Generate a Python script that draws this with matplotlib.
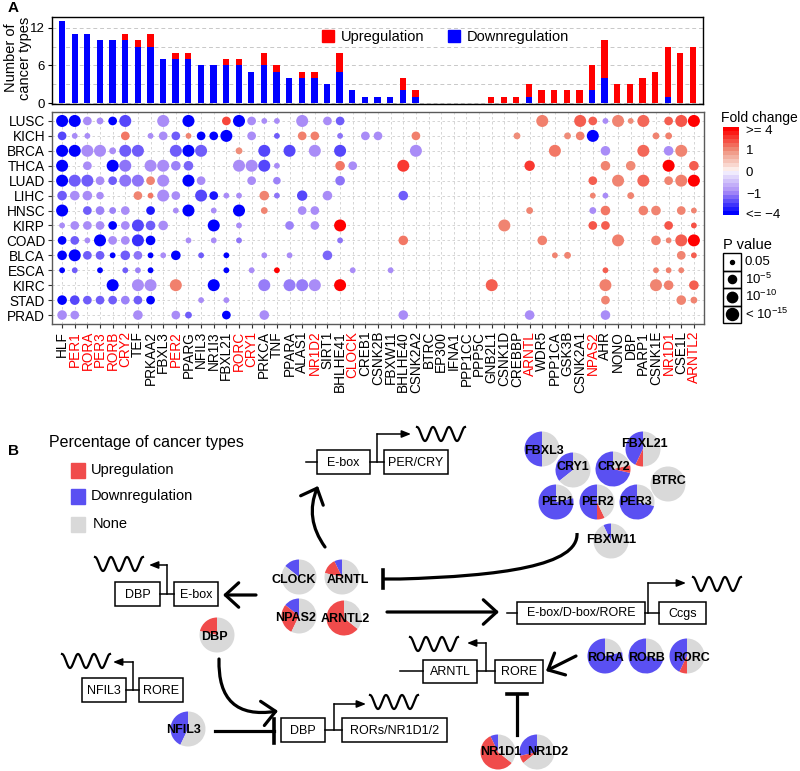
import numpy as np
import matplotlib.pyplot as plt
from matplotlib.colors import LinearSegmentedColormap
from matplotlib.patches import Patch, Rectangle, Wedge, FancyArrowPatch, PathPatch
from matplotlib.path import Path

plt.rcParams['font.family'] = ['Liberation Sans', 'DejaVu Sans']
plt.rcParams['mathtext.fontset'] = 'custom'
plt.rcParams['mathtext.rm'] = 'Liberation Sans'

genes = ["HLF", "PER1", "RORA", "PER3", "RORB", "CRY2", "TEF", "PRKAA2", "FBXL3", "PER2",
         "PPARG", "NFIL3", "NR1I3", "FBXL21", "RORC", "CRY1", "PRKCA", "TNF", "PPARA", "ALAS1",
         "NR1D2", "SIRT1", "BHLHE41", "CLOCK", "CREB1", "CSNK2B", "FBXW11", "BHLHE40", "CSNK2A2", "BTRC",
         "EP300", "IFNA1", "PPP1CC", "PPP5C", "GNB2L1", "CSNK1D", "CREBBP", "ARNTL", "WDR5", "PPP1CA",
         "GSK3B", "CSNK2A1", "NPAS2", "AHR", "NONO", "DBP", "PARP1", "CSNK1E", "NR1D1", "CSE1L", "ARNTL2"]
red_genes = ["PER1", "RORA", "PER3", "RORB", "CRY2", "PER2", "RORC", "CRY1", "NR1D2", "CLOCK",
             "ARNTL", "NPAS2", "NR1D1", "ARNTL2"]
cancers = ["LUSC", "KICH", "BRCA", "THCA", "LUAD", "LIHC", "HNSC", "KIRP", "COAD", "BLCA",
           "ESCA", "KIRC", "STAD", "PRAD"]

# (gene, fold change, -log10 p)
lusc = [("HLF", -4, 15), ("PER1", -4, 15), ("RORA", -1, 6), ("PER3", -1, 3), ("RORB", -4, 6),
        ("CRY2", -2.5, 15), ("FBXL3", -1, 15), ("PPARG", -4, 15), ("FBXL21", 2.5, 6), ("RORC", -4, 15),
        ("CRY1", -1, 6), ("PRKCA", -1, 2), ("TNF", -1, 2), ("ALAS1", -1, 15), ("SIRT1", -1, 6),
        ("BHLHE41", -2, 6), ("WDR5", 1.3, 15), ("CSNK2A1", 2, 15), ("NPAS2", 2, 6), ("AHR", -1, 2),
        ("NONO", 1.2, 15), ("DBP", 1, 2), ("PARP1", 1.8, 15), ("NR1D1", 2, 6), ("CSE1L", 2.2, 15),
        ("ARNTL2", 4, 15)]
kich = [("HLF", -2.5, 6), ("PER1", -1, 2), ("RORA", -1, 2), ("CRY2", 1.5, 6), ("PRKAA2", -1, 2),
        ("FBXL3", -1, 6), ("PER2", -2, 6), ("PPARG", 1.2, 2), ("NFIL3", -4, 6), ("NR1I3", -4, 6),
        ("FBXL21", -4, 15), ("CRY1", -1, 6), ("TNF", -2, 2), ("ALAS1", 1.3, 6), ("NR1D2", 1.3, 6),
        ("BHLHE41", -1.5, 2), ("CREB1", -1, 6), ("CSNK2B", -1, 6), ("CSNK2A2", 1.3, 6), ("CREBBP", 1, 3),
        ("GSK3B", 1, 3), ("CSNK2A1", 1.3, 6), ("NPAS2", -4, 15), ("CSNK1E", 1.2, 3), ("NR1D1", 1.3, 3)]
brca = [("HLF", -4, 15), ("PER1", -4, 15), ("RORA", -1, 15), ("PER3", -1, 15), ("RORB", -1, 3),
        ("CRY2", -2, 15), ("TEF", -2, 15), ("PER2", -2, 15), ("PPARG", -4, 15), ("NFIL3", -2, 15),
        ("RORC", 1, 3), ("PRKCA", -2.5, 15), ("PPARA", -2.5, 15), ("NR1D2", -1, 15), ("BHLHE41", -2.5, 15),
        ("CSNK2A2", -1, 15), ("PPP1CA", 1.5, 15), ("AHR", -1, 8), ("PARP1", 1.8, 15), ("NR1D1", -1, 8),
        ("CSE1L", 1.2, 15)]
thca = [("HLF", -4, 15), ("RORA", -1, 6), ("RORB", -4, 15), ("CRY2", -1.5, 15), ("PRKAA2", -1, 15),
        ("FBXL3", -1, 15), ("PER2", -1.2, 8), ("PPARG", -1.8, 8), ("RORC", -1, 15), ("CRY1", -1, 15),
        ("PRKCA", -2.5, 15), ("TNF", -1, 2), ("BHLHE41", 1.5, 8), ("CLOCK", -1, 6), ("BHLHE40", 2.8, 15),
        ("ARNTL", 2.8, 10), ("AHR", 1.2, 8), ("DBP", 1.1, 8), ("NR1D1", 4, 15), ("ARNTL2", 2, 8)]
luad = [("HLF", -4, 15), ("PER1", -2, 15), ("RORA", -2, 15), ("PER3", -1, 6), ("RORB", -2, 6),
        ("CRY2", -1.5, 15), ("TEF", -1.5, 15), ("PRKAA2", 1.2, 6), ("FBXL3", -1, 15), ("PPARG", -4, 15),
        ("NFIL3", -1, 6), ("CRY1", -1, 6), ("TNF", -1.2, 4), ("BHLHE41", -1.5, 8), ("NPAS2", 2, 6),
        ("NONO", 1.2, 15), ("PARP1", 1.8, 15), ("NR1D1", 1.2, 6), ("CSE1L", 1.3, 15), ("ARNTL2", 4, 15)]
lihc = [("HLF", -2, 8), ("PER1", -1, 8), ("RORA", -1, 8), ("PER3", -1, 4), ("TEF", 1.2, 6),
        ("PRKAA2", 1.5, 2), ("FBXL3", -1, 15), ("PER2", -1, 6), ("NFIL3", -2.5, 15), ("NR1I3", -3.5, 6),
        ("FBXL21", -1, 2), ("RORC", -1, 2), ("PRKCA", 1.2, 8), ("TNF", -1.5, 2), ("ALAS1", -2.5, 10),
        ("SIRT1", -1, 8), ("BHLHE40", -2, 8), ("NPAS2", 1.2, 2), ("AHR", -1, 2), ("DBP", 1.2, 3)]
hnsc = [("HLF", -4, 15), ("RORA", -2, 6), ("PER3", -1.2, 6), ("RORB", -1.2, 3), ("CRY2", -1, 6),
        ("PRKAA2", -3.5, 6), ("PER2", -1, 2), ("PPARG", -4, 15), ("NR1I3", -1, 2), ("RORC", -4, 15),
        ("PRKCA", 1.2, 3), ("ALAS1", -1, 6), ("NR1D2", -1, 6), ("ARNTL", 1.2, 3), ("NPAS2", -1, 3),
        ("AHR", 1.5, 8), ("PARP1", 1.3, 8), ("CSNK1E", 1.2, 8), ("CSE1L", 1.2, 6), ("ARNTL2", 1.2, 2)]
kirp = [("HLF", -1, 2), ("PER1", -1, 6), ("RORA", -1, 6), ("PER3", -1, 6), ("RORB", -4, 6),
        ("CRY2", -1, 6), ("TEF", -2.5, 15), ("PRKAA2", -2, 8), ("FBXL3", -1, 8), ("NR1I3", -4, 15),
        ("RORC", -1, 2), ("PPARA", -1.2, 6), ("NR1D2", -1, 6), ("BHLHE41", 4, 15), ("CSNK1D", 1.2, 15),
        ("NPAS2", 2.2, 6), ("AHR", 2, 6), ("NR1D1", 2.2, 6), ("ARNTL2", 2.3, 2)]
coad = [("HLF", -4, 6), ("PER1", -2, 6), ("RORA", -1, 2), ("PER3", -4, 15), ("RORB", -1, 6),
        ("CRY2", -1, 6), ("TEF", -3, 15), ("PRKAA2", -4, 8), ("PPARG", -1, 2), ("NR1I3", -1, 2),
        ("RORC", -1.5, 2), ("BHLHE41", -1.5, 2), ("BHLHE40", 1.5, 8), ("WDR5", 1.3, 8), ("NONO", 1.3, 15),
        ("CSNK1E", 1.3, 8), ("NR1D1", 1.2, 2), ("CSE1L", 2, 15), ("ARNTL2", 4, 15)]
blca = [("HLF", -4, 8), ("PER1", -4, 15), ("RORA", -2, 6), ("PER3", -2, 6), ("RORB", -4, 2),
        ("CRY2", -2, 8), ("TEF", -1.5, 6), ("PRKAA2", -4, 2), ("FBXL3", -1, 2), ("PER2", -4, 8),
        ("NFIL3", -2, 2), ("FBXL21", -4, 2), ("PRKCA", -1, 2), ("PPARA", -1, 2), ("SIRT1", -1.8, 8),
        ("PPP1CA", 1.2, 2), ("GSK3B", 1.2, 3), ("CSE1L", 1.2, 6), ("ARNTL2", 2, 2)]
esca = [("HLF", -4, 2), ("PER1", -2, 2), ("PER3", -4, 2), ("CRY2", -2, 2), ("TEF", -1.2, 2),
        ("PRKAA2", -4, 2), ("FBXL21", -4, 2), ("CRY1", -1, 2), ("TNF", 4, 2), ("CLOCK", -1, 2),
        ("FBXW11", -1, 2), ("AHR", 2, 2), ("CSNK1E", 1.2, 2), ("NR1D1", 1.3, 2), ("CSE1L", 1.2, 2)]
kirc = [("RORB", -4, 15), ("TEF", -1, 15), ("PRKAA2", -1, 15), ("PER2", 1.3, 15), ("NR1I3", -4, 15),
        ("PRKCA", -1.3, 15), ("PPARA", -1.3, 15), ("ALAS1", -1.3, 15), ("NR1D2", -1, 15), ("BHLHE41", 4, 15),
        ("GNB2L1", 2, 15), ("AHR", 1.3, 15), ("CSNK1E", 1.2, 15), ("NR1D1", 1.3, 8), ("ARNTL2", 2, 8)]
stad = [("HLF", -4, 8), ("PER1", -2.5, 8), ("RORA", -2, 6), ("PER3", -2, 6), ("RORB", -2, 6),
        ("CRY2", -1.2, 6), ("TEF", -2, 6), ("PRKAA2", -4, 6), ("NFIL3", -1, 2), ("FBXL21", -1, 2),
        ("AHR", 1.2, 6), ("CSE1L", 1.2, 8), ("ARNTL2", 1.2, 3)]
prad = [("HLF", -1, 8), ("PER1", -1, 6), ("TEF", -1, 8), ("PER2", -1, 6), ("PPARG", -2, 3),
        ("FBXL21", -4, 6), ("PRKCA", -1, 8), ("BHLHE40", -1, 8), ("ARNTL", -1, 8), ("AHR", -1, 8)]

dot_data = {"LUSC": lusc, "KICH": kich, "BRCA": brca, "THCA": thca, "LUAD": luad, "LIHC": lihc,
            "HNSC": hnsc, "KIRP": kirp, "COAD": coad, "BLCA": blca, "ESCA": esca, "KIRC": kirc,
            "STAD": stad, "PRAD": prad}

# panel B: pie centre (px from top-left) and label offset
pie_layout = {"CLOCK": (299, 577, -5, 3), "ARNTL": (342, 577, 6, 3), "NPAS2": (299, 616, -3, 2),
              "ARNTL2": (344, 618, 1, 1), "DBP": (217, 635, -3, 2), "NFIL3": (188, 729, -4, 1),
              "FBXL3": (542, 449, 2, 2), "FBXL21": (643, 449, 1, -5), "CRY1": (573, 470, 0, -3),
              "CRY2": (613, 469, 1, -2), "BTRC": (668, 484, 0, -3), "PER1": (556, 502, 1, 0),
              "PER2": (597, 502, 0, 0), "PER3": (637, 502, -1, 0), "FBXW11": (611, 541, 0, -1),
              "RORA": (605, 656, 1, 2), "RORB": (646, 656, 1, 2), "RORC": (687, 656, 5, 2),
              "NR1D1": (498, 752, 3, 0), "NR1D2": (537, 752, 11, 0)}

RED, BLUE = '#FF0000', '#0000FF'
PRED, PBLUE, PGREY = '#F04B4B', '#5A50F2', '#D9D9D9'
W, H = 800, 771
n_types = len(cancers)

gidx = {g: i + 1 for i, g in enumerate(genes)}
up = np.zeros(len(genes))
down = np.zeros(len(genes))
for c in cancers:
    for g, fc, lp in dot_data[c]:
        if fc > 0:
            up[gidx[g] - 1] += 1
        else:
            down[gidx[g] - 1] += 1

cmap = LinearSegmentedColormap.from_list('fc', [(0, '#0000FF'), (0.25, '#A98CF7'), (0.47, '#EEE8FD'),
                                                (0.5, '#FFFFFF'), (0.53, '#FCE9E4'), (0.75, '#EF8F7A'),
                                                (1, '#FF0000')])


def fc_pos(v):
    return np.interp(v, [-4, -1, 0, 1, 4], [0, 0.25, 0.5, 0.75, 1])


def dot_size(lp):
    d = 4 + 8 * np.sqrt(np.clip((np.asarray(lp) - 1.3) / 13.7, 0, 1))  # diameter in px
    return (d * 0.72) ** 2


def box(l, t, r, b):
    return [l / W, 1 - b / H, (r - l) / W, (b - t) / H]


fig = plt.figure(figsize=(8, 7.71), dpi=100)
x = np.arange(1, len(genes) + 1)

# ---- bar chart
ax1 = fig.add_axes(box(52, 17, 703, 104))
ax1.bar(x, down, width=0.5, color=BLUE, zorder=3)
ax1.bar(x, up, bottom=down, width=0.5, color=RED, zorder=3)
ax1.set_xlim(0.2, 51.8)
ax1.set_ylim(-0.15, 13.7)
ax1.set_xticks([])
ax1.set_yticks([0, 6, 12])
ax1.set_yticks([3, 9], minor=True)
ax1.tick_params(axis='y', which='minor', length=0)
ax1.tick_params(axis='y', labelsize=9.5, length=3, pad=2)
ax1.grid(axis='y', which='both', ls=(0, (4, 3)), color='#C8C8C8', lw=0.7, zorder=0)
for s in ax1.spines.values():
    s.set_linewidth(1)
fig.text(18 / W, 1 - 58 / H, 'Number of\ncancer types', fontsize=10.5, rotation=90,
         ha='center', va='center', linespacing=0.95, multialignment='center')
ax1.legend(handles=[Patch(color=RED, label='Upregulation'), Patch(color=BLUE, label='Downregulation')],
           ncol=2, frameon=False, loc='center', bbox_to_anchor=(0.605, 0.77), fontsize=10.5,
           handlelength=0.8, handleheight=0.8, handletextpad=0.5, columnspacing=1.6)

# ---- dot plot
ax2 = fig.add_axes(box(52, 112, 704, 324))
xs, ys, cs, ss = [], [], [], []
for r, c in enumerate(cancers, start=1):
    for g, fc, lp in dot_data[c]:
        xs.append(gidx[g])
        ys.append(r)
        cs.append(cmap(fc_pos(fc)))
        ss.append(dot_size(lp))
ax2.scatter(xs, ys, s=ss, c=cs, linewidths=0, zorder=3)
ax2.set_xlim(0.2, 51.8)
ax2.set_ylim(14.6, 0.4)
ax2.set_xticks(x)
ax2.set_xticklabels(genes, rotation=90, fontsize=9.8)
for lab in ax2.get_xticklabels():
    if lab.get_text() in red_genes:
        lab.set_color(RED)
ax2.set_yticks(np.arange(1, n_types + 1))
ax2.set_yticklabels(cancers, fontsize=9.8)
ax2.tick_params(length=3, color='#333333', pad=2)
ax2.grid(True, ls=(0, (3, 3)), color='#CFCFCF', lw=0.6, zorder=0)
ax2.set_axisbelow(True)
for s in ax2.spines.values():
    s.set_color('#5A5A5A')
    s.set_linewidth(1)

# ---- fold change colorbar
fig.text(721 / W, 1 - 118 / H, 'Fold change', fontsize=10, va='center')
axc = fig.add_axes(box(723, 127, 739, 215))
steps = (np.arange(22) + 0.5) / 22
axc.imshow(steps[:, None], aspect='auto', cmap=cmap, origin='lower', extent=[0, 1, 0, 1],
           interpolation='nearest')
axc.set_xticks([])
axc.yaxis.tick_right()
axc.set_yticks([0.02, 0.25, 0.5, 0.75, 0.97])
axc.set_yticklabels(['<= \u22124', '\u22121', '0', '1', '>= 4'], fontsize=9.5)
axc.tick_params(axis='y', length=0, pad=5)
for s in axc.spines.values():
    s.set_visible(False)

# ---- p value legend
fig.text(723 / W, 1 - 245 / H, 'P value', fontsize=10.5, va='center')
axp = fig.add_axes(box(723, 253, 741, 323))
axp.set_xlim(0, 1)
axp.set_ylim(4, 0)
axp.axis('off')
p_keys = [1.3, 5, 10, 15]
p_labels = ['0.05', r'$\mathregular{10^{-5}}$', r'$\mathregular{10^{-10}}$', r'< $\mathregular{10^{-15}}$']
for i, (lp, lab) in enumerate(zip(p_keys, p_labels)):
    axp.add_patch(Rectangle((0, i), 1, 1, fill=False, lw=1, ec='k', clip_on=False))
    axp.scatter([0.5], [i + 0.5], s=dot_size(lp), color='k', clip_on=False)
    axp.text(1.2, i + 0.5, lab, fontsize=9.5, va='center', ha='left')

fig.text(8 / W, 1 - 8 / H, 'A', fontsize=11, fontweight='bold', va='center')
fig.text(8 / W, 1 - 451 / H, 'B', fontsize=11, fontweight='bold', va='center')

# ---- panel B schematic (pixel coordinates)
axB = fig.add_axes([0, 0, 1, 1])
axB.set_xlim(0, W)
axB.set_ylim(H, 0)
axB.axis('off')

axB.text(49, 443, 'Percentage of cancer types', fontsize=11.5, va='center')
for yy, col, lab in [(470, PRED, 'Upregulation'), (496, PBLUE, 'Downregulation'), (524, PGREY, 'None')]:
    axB.add_patch(Rectangle((71, yy - 7.5), 14, 15, color=col))
    axB.text(91 if lab != 'None' else 93, yy, lab, fontsize=10.5, va='center')


def gbox(l, t, r, b, label):
    axB.add_patch(Rectangle((l, t), r - l, b - t, fill=False, lw=1.1, ec='k'))
    axB.text((l + r) / 2, (t + b) / 2 + 0.5, label, fontsize=9, ha='center', va='center')


def hline(x0, x1, y):
    axB.plot([x0, x1], [y, y], color='k', lw=1.1)


def promoter(xv, y0, y1, x_tip):
    axB.plot([xv, xv], [y0, y1], color='k', lw=1.1)
    axB.annotate('', xy=(x_tip, y1), xytext=(xv, y1),
                 arrowprops=dict(arrowstyle='-|>,head_length=0.55,head_width=0.22', lw=1.1, color='k',
                                 shrinkA=0, shrinkB=0))


def wave(x0, yc, w=48, amp=7):
    t = np.linspace(0, 1, 200)
    axB.plot(x0 + w * t, yc - amp * np.cos(2 * np.pi * 3 * t), color='k', lw=1.6)


def chevron(p0, p1, rad=0.0):
    axB.add_patch(FancyArrowPatch(p0, p1, arrowstyle='->,head_length=0.6,head_width=0.55',
                                  connectionstyle='arc3,rad=%s' % rad, mutation_scale=16, lw=2.3,
                                  color='k', shrinkA=0, shrinkB=0))


def inhibit(p0, p1, bar_half=12):
    axB.plot([p0[0], p1[0]], [p0[1], p1[1]], color='k', lw=2.3)
    if p0[1] == p1[1]:
        axB.plot([p1[0], p1[0]], [p1[1] - bar_half, p1[1] + bar_half], color='k', lw=2.6)
    else:
        axB.plot([p1[0] - bar_half, p1[0] + bar_half], [p1[1], p1[1]], color='k', lw=2.6)


# E-box / PER/CRY
hline(306, 317, 462)
gbox(317, 450, 370, 474, 'E-box')
hline(370, 384, 462)
gbox(384, 450, 448, 474, 'PER/CRY')
promoter(377, 462, 434, 411)
wave(417, 434)

# DBP / E-box (left)
gbox(115, 582, 160, 606, 'DBP')
hline(160, 174, 594)
gbox(174, 582, 218, 606, 'E-box')
promoter(167, 594, 565, 149)
wave(95, 564)

# NFIL3 / RORE
gbox(82, 678, 126, 702, 'NFIL3')
hline(126, 139, 690)
gbox(139, 678, 183, 702, 'RORE')
promoter(133, 690, 662, 113)
wave(62, 661)

# DBP / RORs
gbox(281, 718, 325, 742, 'DBP')
hline(325, 342, 730)
gbox(342, 718, 447, 742, 'RORs/NR1D1/2')
promoter(334, 730, 704, 366)
wave(370, 702)

# E-box/D-box/RORE / Ccgs
hline(507, 517, 613)
gbox(517, 602, 645, 624, 'E-box/D-box/RORE')
hline(645, 659, 613)
gbox(659, 602, 706, 624, 'Ccgs')
promoter(648, 613, 583, 686)
wave(693, 584)

# ARNTL / RORE
hline(400, 423, 671)
gbox(423, 660, 477, 683, 'ARNTL')
hline(477, 495, 671)
gbox(495, 660, 543, 683, 'RORE')
promoter(486, 671, 643, 467)
wave(410, 644)

# arrows
chevron((325, 547), (318, 486), rad=-0.28)
chevron((256, 595), (223, 595))
chevron((219, 659), (278, 711), rad=0.6)
chevron((387, 612), (499, 612))
chevron((576, 656), (546, 671))
inhibit((215, 731), (274, 731))
inhibit((517, 735), (517, 694), bar_half=10)
fb_path = Path([(577, 533), (579, 566), (500, 576), (400, 579), (383, 579)],
               [Path.MOVETO, Path.CURVE4, Path.CURVE4, Path.CURVE4, Path.LINETO])
axB.add_patch(PathPatch(fb_path, fill=False, lw=2.3, ec='k'))
axB.plot([383, 383], [570, 588], color='k', lw=2.6)

# pies: downregulation first, counter-clockwise from 12 o'clock, then upregulation
for g, (cx, cy, dx, dy) in pie_layout.items():
    i = gidx[g] - 1
    fd = 360 * down[i] / n_types
    fu = 360 * up[i] / n_types
    r = 17.5
    if fd > 0:
        axB.add_patch(Wedge((cx, cy), r, 270 - fd, 270, color=PBLUE, lw=0))
    if fu > 0:
        axB.add_patch(Wedge((cx, cy), r, 270 - fd - fu, 270 - fd, color=PRED, lw=0))
    if fd + fu < 360:
        axB.add_patch(Wedge((cx, cy), r, -90, 270 - fd - fu, color=PGREY, lw=0))
for g, (cx, cy, dx, dy) in pie_layout.items():
    axB.text(cx + dx, cy + dy, g, fontsize=9, fontweight='bold', ha='center', va='center')

fig.savefig('out.png', dpi=100)
